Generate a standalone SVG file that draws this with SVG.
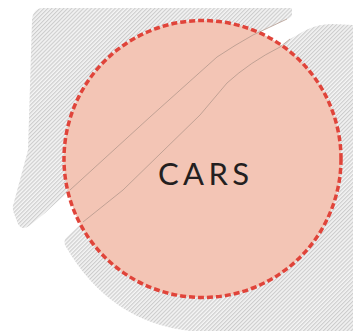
<svg xmlns="http://www.w3.org/2000/svg" width="353" height="335" viewBox="0 0 353 335">
  <defs>
    <pattern id="hatch" patternUnits="userSpaceOnUse" width="2.8" height="2.8" patternTransform="rotate(45)">
      <rect width="2.8" height="2.8" fill="#f5f5f5"/>
      <rect width="1.2" height="2.8" fill="#cdcdcd"/>
    </pattern>
  </defs>
  <style>
    .area { fill: url(#hatch); }
    .seam { fill: none; stroke: #b0958a; stroke-width: 1; stroke-opacity: 0.75; }
    .zone { fill: #f3c5b5; stroke: #e0443a; stroke-width: 3.5; stroke-dasharray: 6 3; }
    .label { font-family: "Lato", "Liberation Sans", sans-serif; font-size: 31px; fill: #231f20; }
  </style>
  <g id="background">
    <path class="area" d="M 43,8 L 292,8 L 292,15 Q 291,18 287,19 L 253,35 Q 235,45 217,57 L 150,117 L 70,190 L 45,213 L 29,226 Q 22,231 18,224 L 13,211 Q 12,206 14,202 L 28,150 L 32,20 Q 33,8 43,8 Z"/>
    <path class="area" d="M 290,39 L 280,47 Q 250,62 227,83 L 200,115 L 123,190 L 83,222 L 68,236 Q 62,241 66,247 Q 110,322 190,331 L 353,331 L 353,25 L 332,24 Q 318,24 306,30 Z"/>
  </g>
  <g id="cars">
    <circle class="zone" cx="202.5" cy="159" r="138.5"/>
    <path class="seam" d="M 287,19 L 253,35 Q 235,45 217,57 L 150,117 L 70,190"/>
    <path class="seam" d="M 290,39 L 280,47 Q 250,62 227,83 L 200,115 L 123,190 L 83,222"/>
    <text class="label" x="158" y="185" textLength="91" lengthAdjust="spacing">CARS</text>
  </g>
  <g id="connectors"/>
</svg>
